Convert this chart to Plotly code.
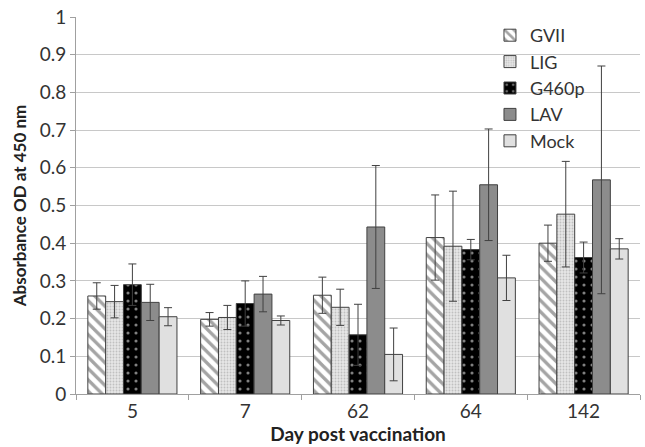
import plotly.graph_objects as go

days = ["5", "7", "62", "64", "142"]
series_names = ["GVII", "LIG", "G460p", "LAV", "Mock"]
gvii = [0.260, 0.198, 0.262, 0.415, 0.400]
lig = [0.245, 0.203, 0.230, 0.392, 0.477]
g460p = [0.290, 0.240, 0.157, 0.383, 0.362]
lav = [0.243, 0.265, 0.443, 0.555, 0.568]
mock = [0.205, 0.195, 0.105, 0.308, 0.385]
gvii_err = [0.035, 0.018, 0.048, 0.113, 0.048]
lig_err = [0.043, 0.032, 0.048, 0.146, 0.140]
g460p_err = [0.055, 0.060, 0.081, 0.027, 0.041]
lav_err = [0.048, 0.047, 0.163, 0.148, 0.302]
mock_err = [0.024, 0.012, 0.070, 0.060, 0.027]

values = [gvii, lig, g460p, lav, mock]
errors = [gvii_err, lig_err, g460p_err, lav_err, mock_err]

styles = [
    dict(color="white", pattern=dict(shape="\\", fgcolor="#4a4a4a", bgcolor="white", size=8, solidity=0.42)),
    dict(color="#d8d8d8", pattern=dict(shape=".", fgcolor="#9a9a9a", bgcolor="#e6e6e6", size=3, solidity=0.3)),
    dict(color="black", pattern=dict(shape=".", fgcolor="white", bgcolor="black", size=8, solidity=0.12)),
    dict(color="#8c8c8c", pattern=None),
    dict(color="#e0e0e0", pattern=None),
]

fig = go.Figure()
for name, v, e, st in zip(series_names, values, errors, styles):
    marker = dict(color=st["color"], line=dict(color="#404040", width=1))
    if st["pattern"]:
        marker["pattern"] = st["pattern"]
    fig.add_trace(go.Bar(
        x=days, y=v, name=name, marker=marker,
        error_y=dict(type="data", array=e, visible=True, color="#404040", thickness=1, width=4),
    ))

fig.update_layout(
    width=645, height=447,
    margin=dict(l=76, r=5, t=17, b=53),
    paper_bgcolor="white", plot_bgcolor="white",
    barmode="group", bargap=0.21, bargroupgap=0,
    font=dict(family="Lato, Open Sans, sans-serif", size=19, color="#333333"),
    showlegend=True,
    legend=dict(x=0.734, y=1.0, xanchor="left", yanchor="top",
                bgcolor="rgba(0,0,0,0)", font=dict(size=18, color="#333333"),
                itemwidth=30, tracegroupgap=0),
    xaxis=dict(
        title=dict(text="<b>Day post vaccination</b>", font=dict(size=19, color="#222222"), standoff=2),
        showline=True, linecolor="#a0a0a0", linewidth=1,
        ticks="outside", tickson="boundaries", ticklen=5, tickcolor="#a0a0a0",
        showgrid=False, automargin=False,
    ),
    yaxis=dict(
        title=dict(text="<b>Absorbance OD at 450 nm</b>", font=dict(size=17, color="#222222"), standoff=8),
        range=[0, 1], dtick=0.1, tickformat="~g", ticklabeloverflow="allow",
        showline=True, linecolor="#a0a0a0", linewidth=1,
        ticks="outside", ticklen=5, tickcolor="#a0a0a0",
        showgrid=True, gridcolor="#c8c8c8", gridwidth=1,
        zeroline=False, automargin=False,
    ),
)

# remove the browser's default 8px body margin so the figure fills the window exactly
fig.write_html("out.html", config={"displayModeBar": False},
               post_script="document.body.style.margin='0';")
